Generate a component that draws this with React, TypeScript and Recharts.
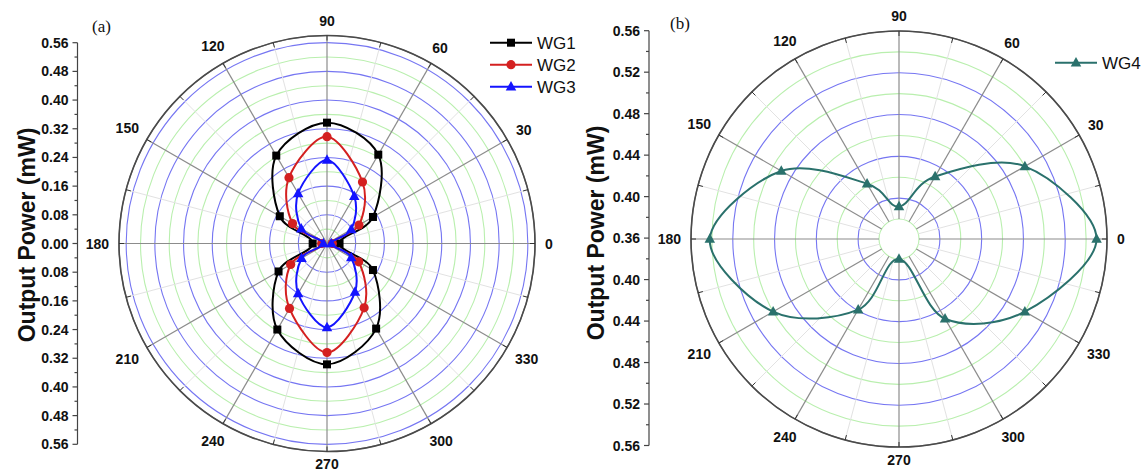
import React from 'react';
import {
  RadarChart,
  Radar,
  PolarGrid,
  PolarAngleAxis,
  PolarRadiusAxis,
  LineChart,
  XAxis,
  YAxis,
} from 'recharts';

// ---------- data ----------
const angles = [0, 30, 60, 90, 120, 150, 180, 210, 240, 270, 300, 330];
const wg1 = [0.035, 0.148, 0.286, 0.337, 0.283, 0.152, 0.04, 0.156, 0.277, 0.337, 0.274, 0.148];
const wg2 = [0.015, 0.103, 0.198, 0.298, 0.212, 0.111, 0.015, 0.117, 0.209, 0.304, 0.207, 0.102];
const wg3 = [0.012, 0.078, 0.152, 0.233, 0.161, 0.083, 0.01, 0.082, 0.161, 0.234, 0.156, 0.078];
const wg4 = [0.55, 0.5, 0.43, 0.392, 0.422, 0.491, 0.542, 0.5, 0.439, 0.38, 0.449, 0.5];

const angleTicks = [0, 15, 30, 45, 60, 75, 90, 105, 120, 135, 150, 165, 180, 195, 210, 225, 240, 255, 270, 285, 300, 315, 330, 345];
const powerTicksA = [0.56, 0.48, 0.4, 0.32, 0.24, 0.16, 0.08, 0.0];
const powerTicksB = [0.56, 0.52, 0.48, 0.44, 0.4, 0.36];
const ringsBlueA = [0.08, 0.16, 0.24, 0.32, 0.4, 0.48, 0.56];
const ringsGreenA = [0.04, 0.12, 0.2, 0.28, 0.36, 0.44, 0.52];
const ringsBlueB = [0.4, 0.44, 0.48, 0.52];
const ringsGreenB = [0.38, 0.42, 0.46, 0.5, 0.54];

const seriesA = [
  { key: 'wg1', name: 'WG1', color: '#000000', marker: 'square' },
  { key: 'wg2', name: 'WG2', color: '#d42020', marker: 'circle' },
  { key: 'wg3', name: 'WG3', color: '#1414ff', marker: 'triangle' },
];
const seriesB = [{ key: 'wg4', name: 'WG4', color: '#2a716c', marker: 'triangle' }];

const dataA = angles.map((a, i) => ({ angle: a, wg1: wg1[i], wg2: wg2[i], wg3: wg3[i] }));
const dataB = angles.map((a, i) => ({ angle: a, wg4: wg4[i] }));

// ---------- layout constants ----------
const FONT = '"Liberation Sans", Arial, sans-serif';
const A = { left: 0, width: 580, cx: 327, cy: 243.5, inner: 0, outer: 208, d0: 0, d1: 0.58, tickCount: 30 };
const B = { left: 580, width: 564, cx: 319, cy: 239, inner: 20, outer: 208, d0: 0.38, d1: 0.56, tickCount: 10 };

const toPx = (p: any, v: number) => p.inner + ((v - p.d0) / (p.d1 - p.d0)) * (p.outer - p.inner);

// ---------- helpers ----------
function Marker({ x, y, kind, color, size = 1 }: any) {
  if (kind === 'square') {
    const s = 8 * size;
    return <rect x={x - s / 2} y={y - s / 2} width={s} height={s} fill={color} />;
  }
  if (kind === 'circle') {
    return <circle cx={x} cy={y} r={4.6 * size} fill={color} />;
  }
  const w = 10.5 * size;
  const h = 9.5 * size;
  return (
    <polygon
      points={`${x},${y - h * 0.6} ${x - w / 2},${y + h * 0.4} ${x + w / 2},${y + h * 0.4}`}
      fill={color}
    />
  );
}

function smoothClosed(pts: { x: number; y: number }[]) {
  const n = pts.length;
  if (!n) return '';
  let d = `M${pts[0].x},${pts[0].y}`;
  for (let i = 0; i < n; i++) {
    const p0 = pts[(i - 1 + n) % n];
    const p1 = pts[i];
    const p2 = pts[(i + 1) % n];
    const p3 = pts[(i + 2) % n];
    const c1x = p1.x + (p2.x - p0.x) / 6;
    const c1y = p1.y + (p2.y - p0.y) / 6;
    const c2x = p2.x - (p3.x - p1.x) / 6;
    const c2y = p2.y - (p3.y - p1.y) / 6;
    d += ` C${c1x},${c1y} ${c2x},${c2y} ${p2.x},${p2.y}`;
  }
  return d + ' Z';
}

const makeShape = (color: string, marker: string) => (props: any) => {
  const pts = (props.points || []).map((p: any) => ({ x: p.x, y: p.y }));
  return (
    <g>
      <path d={smoothClosed(pts)} fill="none" stroke={color} strokeWidth={2} />
      {pts.map((p: any, i: number) => (
        <Marker key={i} x={p.x} y={p.y} kind={marker} color={color} />
      ))}
    </g>
  );
};

const makeAngleTick = (cx: number, cy: number, R: number) => (props: any) => {
  const v = Number(props?.payload?.value);
  if (Math.round(v) % 30 !== 0) return <g />;
  const label = String(v);
  const fs = 14;
  const halfW = (label.length * 0.556 * fs) / 2;
  const halfH = 5;
  const rad = (v * Math.PI) / 180;
  const c = Math.cos(rad);
  const s = Math.sin(rad);
  const gap = s < -0.99 ? 7.5 : 10;
  const d = R + gap + halfW * Math.abs(c) + halfH * Math.abs(s);
  return (
    <text
      x={cx + d * c}
      y={cy - d * s}
      dy="0.36em"
      textAnchor="middle"
      fontWeight="bold"
      fontSize={fs}
      fill="#111"
      fontFamily={FONT}
    >
      {label}
    </text>
  );
};

function buildAxisTicks(majors: number[], base: number) {
  const pos = majors.map((m) => Math.round((m - base) * 1000) / 1000);
  const out: number[] = [];
  const sorted = [...pos].sort((a, b) => a - b);
  for (let i = 0; i < sorted.length; i++) {
    out.push(sorted[i]);
    if (i < sorted.length - 1) out.push(Math.round(((sorted[i] + sorted[i + 1]) / 2) * 1000) / 1000);
  }
  const neg = out.filter((v) => v > 0).map((v) => -v);
  return [...neg, ...out].sort((a, b) => a - b);
}

const makeAxisTick = (axisX: number, majors: number[], base: number) => (props: any) => {
  const v = Number(props?.payload?.value);
  const real = Math.round((base + Math.abs(v)) * 1000) / 1000;
  const isMajor = majors.some((m) => Math.abs(m - real) < 1e-6);
  const y = props.y;
  return (
    <g>
      <line x1={axisX - (isMajor ? 5 : 3)} x2={axisX} y1={y} y2={y} stroke="#444" strokeWidth={1.2} />
      {isMajor && (
        <text
          x={axisX - 9}
          y={y}
          dy="0.36em"
          textAnchor="end"
          fontWeight="bold"
          fontSize={14}
          fill="#111"
          fontFamily={FONT}
        >
          {real.toFixed(2)}
        </text>
      )}
    </g>
  );
};

function PolarPanel({ p, data, series, ringsBlue, ringsGreen }: any) {
  const majorSpokes = angleTicks.filter((a) => a % 30 === 0);
  const minorSpokes = angleTicks.filter((a) => a % 30 !== 0);
  return (
    <RadarChart
      width={p.width}
      height={473}
      data={data}
      cx={p.cx}
      cy={p.cy}
      innerRadius={p.inner}
      outerRadius={p.outer}
      startAngle={0}
      endAngle={360}
      margin={{ top: 0, right: 0, bottom: 0, left: 0 }}
    >
      <PolarGrid
        gridType="circle"
        radialLines={false}
        polarAngles={[0]}
        polarRadius={ringsGreen.map((v: number) => toPx(p, v))}
        stroke="#b9efae"
        strokeWidth={1.1}
      />
      <PolarGrid
        gridType="circle"
        radialLines={false}
        polarAngles={[0]}
        polarRadius={ringsBlue.map((v: number) => toPx(p, v))}
        stroke="#7676f2"
        strokeWidth={1.1}
      />
      <PolarGrid
        gridType="circle"
        polarAngles={minorSpokes}
        polarRadius={[p.outer]}
        stroke="#e2e2e2"
        strokeWidth={1}
      />
      <PolarGrid
        gridType="circle"
        polarAngles={majorSpokes}
        polarRadius={[p.outer]}
        stroke="#8c8c8c"
        strokeWidth={1.2}
      />
      <PolarRadiusAxis
        type="number"
        domain={[p.d0, p.d1]}
        allowDataOverflow
        allowDecimals
        tickCount={p.tickCount}
        tick={false}
        axisLine={false}
        tickLine={false}
      />
      <PolarAngleAxis
        dataKey="angle"
        type="number"
        domain={[0, 360]}
        ticks={angleTicks}
        allowDataOverflow
        orientation="inner"
        tickSize={5}
        tickLine={{ stroke: '#333', strokeWidth: 1 }}
        axisLine={{ stroke: '#4a4a4a', strokeWidth: 1.6 }}
        axisLineType="circle"
        tick={makeAngleTick(p.cx, p.cy, p.outer)}
      />
      {series.map((s: any) => (
        <Radar
          key={s.key}
          name={s.name}
          dataKey={s.key}
          stroke={s.color}
          fill="none"
          isAnimationActive={false}
          shape={makeShape(s.color, s.marker)}
        />
      ))}
    </RadarChart>
  );
}

function SideAxis({ left, width, axisX, top, bottom, majors, base, half }: any) {
  const ticks = buildAxisTicks(majors, base);
  return (
    <div style={{ position: 'absolute', left, top: 0 }}>
      <LineChart
        width={width}
        height={473}
        data={[{ i: 0 }, { i: 1 }]}
        margin={{ top, bottom: 473 - bottom, left: 0, right: width - axisX }}
      >
        <XAxis dataKey="i" hide />
        <YAxis
          type="number"
          domain={[-half, half]}
          ticks={ticks}
          interval={0}
          allowDataOverflow
          width={axisX}
          tickLine={false}
          axisLine={{ stroke: '#444', strokeWidth: 1.2 }}
          tick={makeAxisTick(axisX, majors, base)}
        />
      </LineChart>
    </div>
  );
}

function Legend({ items, x, y0, dy }: any) {
  return (
    <g>
      {items.map((s: any, i: number) => {
        const y = y0 + i * dy;
        return (
          <g key={s.key}>
            <line x1={x} x2={x + 42} y1={y} y2={y} stroke={s.color} strokeWidth={2} />
            <Marker x={x + 21} y={y} kind={s.marker} color={s.color} />
            <text x={x + 47} y={y} dy="0.36em" fontSize={17} fill="#111" fontFamily={FONT}>
              {s.name}
            </text>
          </g>
        );
      })}
    </g>
  );
}

export default function App() {
  return (
    <div
      style={{
        position: 'absolute',
        left: 0,
        top: 0,
        width: 1144,
        height: 473,
        background: '#fff',
        overflow: 'hidden',
        fontFamily: FONT,
      }}
    >
      <div style={{ position: 'absolute', left: A.left, top: 0 }}>
        <PolarPanel p={A} data={dataA} series={seriesA} ringsBlue={ringsBlueA} ringsGreen={ringsGreenA} />
      </div>
      <div style={{ position: 'absolute', left: B.left, top: 0 }}>
        <PolarPanel p={B} data={dataB} series={seriesB} ringsBlue={ringsBlueB} ringsGreen={ringsGreenB} />
      </div>
      <SideAxis left={0} width={80} axisX={77.5} top={42.7} bottom={444.3} majors={powerTicksA} base={0} half={0.56} />
      <SideAxis left={580} width={72} axisX={69} top={30.7} bottom={445.5} majors={powerTicksB} base={0.36} half={0.2} />
      <svg
        width={1144}
        height={473}
        style={{ position: 'absolute', left: 0, top: 0, pointerEvents: 'none' }}
      >
        <text x={92} y={26} dy="0.36em" fontSize={17} fontFamily='"Liberation Serif", "Times New Roman", serif' fill="#111">
          (a)
        </text>
        <text x={670} y={23} dy="0.36em" fontSize={17} fontFamily='"Liberation Serif", "Times New Roman", serif' fill="#111">
          (b)
        </text>
        <text
          transform="translate(26.5,235) rotate(-90)"
          textAnchor="middle"
          dy="0.36em"
          fontSize={23}
          fontWeight="bold"
          fill="#111"
          fontFamily={FONT}
        >
          Output Power (mW)
        </text>
        <text
          transform="translate(596,233) rotate(-90)"
          textAnchor="middle"
          dy="0.36em"
          fontSize={23}
          fontWeight="bold"
          fill="#111"
          fontFamily={FONT}
        >
          Output Power (mW)
        </text>
        <Legend items={seriesA} x={490} y0={42.7} dy={22} />
        <Legend items={seriesB} x={1055} y0={62.7} dy={22} />
      </svg>
    </div>
  );
}
